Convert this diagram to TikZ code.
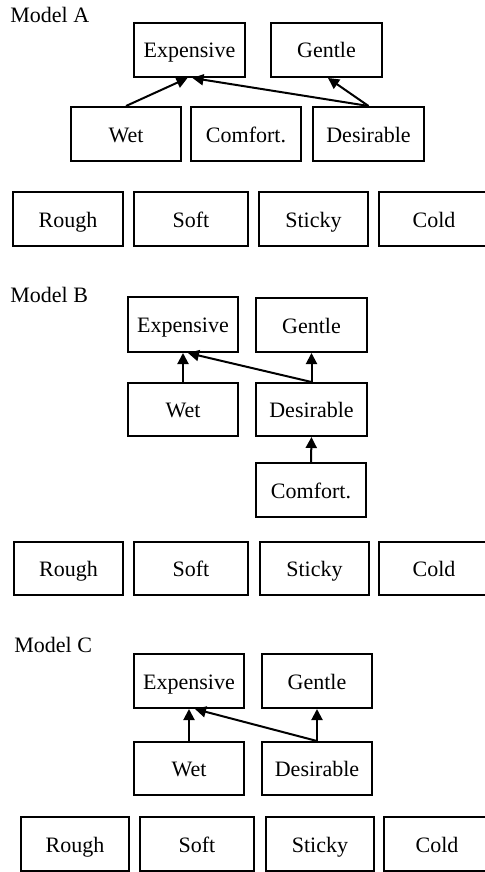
\documentclass[tikz,border=0pt]{standalone}
\usepackage{fontspec}
\setmainfont{Liberation Serif}
\usetikzlibrary{arrows.meta}

\tikzset{
  lbl/.style={anchor=base west, inner sep=0pt, font=\fontsize{11pt}{13pt}\selectfont},
  bx/.style 2 args={draw, line width=1pt, inner sep=0pt,
    minimum width=#1*0.5pt, minimum height=#2*0.5pt,
    text height=8pt, text depth=0pt,
    font=\fontsize{11pt}{13pt}\selectfont},
  link/.style={line width=1pt, -{Triangle[length=5.5pt,width=5.5pt]}},
}

\begin{document}
\begin{tikzpicture}[x=0.5pt, y=-0.5pt]
\useasboundingbox (0,0) rectangle (485,872);

% ---------- Model A ----------
\node[lbl] (la) at (10,23) {Model A};
\node[bx={111}{54}] (ea) at (189.5,50) {Expensive};
\node[bx={111}{54}] (ga) at (326.5,50) {Gentle};
\node[bx={110}{54}] (wa) at (126,134) {Wet};
\node[bx={110}{54}] (ca) at (246,134) {Comfort.};
\node[bx={111}{54}] (da) at (368.5,134) {Desirable};
\node[bx={110}{54}] (ra) at (68,219) {Rough};
\node[bx={114}{54}] (sa) at (191,219) {Soft};
\node[bx={109}{54}] (sta) at (313.5,219) {Sticky};
\node[bx={110}{54}] (coa) at (434,219) {Cold};
\draw[link] (wa.north) -- ([xshift=-1pt]ea.south);
\draw[link] (da.north) -- ([xshift=1.5pt]ea.south);
\draw[link] (da.north) -- ([xshift=0.75pt]ga.south);

% ---------- Model B ----------
\node[lbl] (lb) at (10,302) {Model B};
\node[bx={110}{55}] (eb) at (183,324.5) {Expensive};
\node[bx={111}{54}] (gb) at (311.5,325) {Gentle};
\node[bx={110}{53}] (wb) at (183,409.5) {Wet};
\node[bx={111}{53}] (db) at (311.5,409.5) {Desirable};
\node[bx={110}{54}] (cb) at (311,490) {Comfort.};
\node[bx={109}{53}] (rb) at (68.5,568.5) {Rough};
\node[bx={114}{53}] (sb) at (191,568.5) {Soft};
\node[bx={109}{53}] (stb) at (314.5,568.5) {Sticky};
\node[bx={110}{53}] (cob) at (434,568.5) {Cold};
\draw[link] (wb.north) -- (eb.south);
\draw[link] (db.north) -- ([xshift=2.5pt]eb.south);
\draw[link] (db.north) -- (gb.south);
\draw[link] (cb.north) -- (db.south);

% ---------- Model C ----------
\node[lbl] (lc) at (14,652) {Model C};
\node[bx={110}{54}] (ec) at (189,681) {Expensive};
\node[bx={110}{54}] (gc) at (317,681) {Gentle};
\node[bx={110}{53}] (wc) at (189,768.5) {Wet};
\node[bx={110}{53}] (dc) at (317,768.5) {Desirable};
\node[bx={108}{54}] (rc) at (75,844) {Rough};
\node[bx={114}{54}] (sc) at (197,844) {Soft};
\node[bx={108}{54}] (stc) at (320,844) {Sticky};
\node[bx={106}{54}] (coc) at (437,844) {Cold};
\draw[link] (wc.north) -- (ec.south);
\draw[link] (dc.north) -- ([xshift=3pt]ec.south);
\draw[link] (dc.north) -- (gc.south);
\end{tikzpicture}
\end{document}
